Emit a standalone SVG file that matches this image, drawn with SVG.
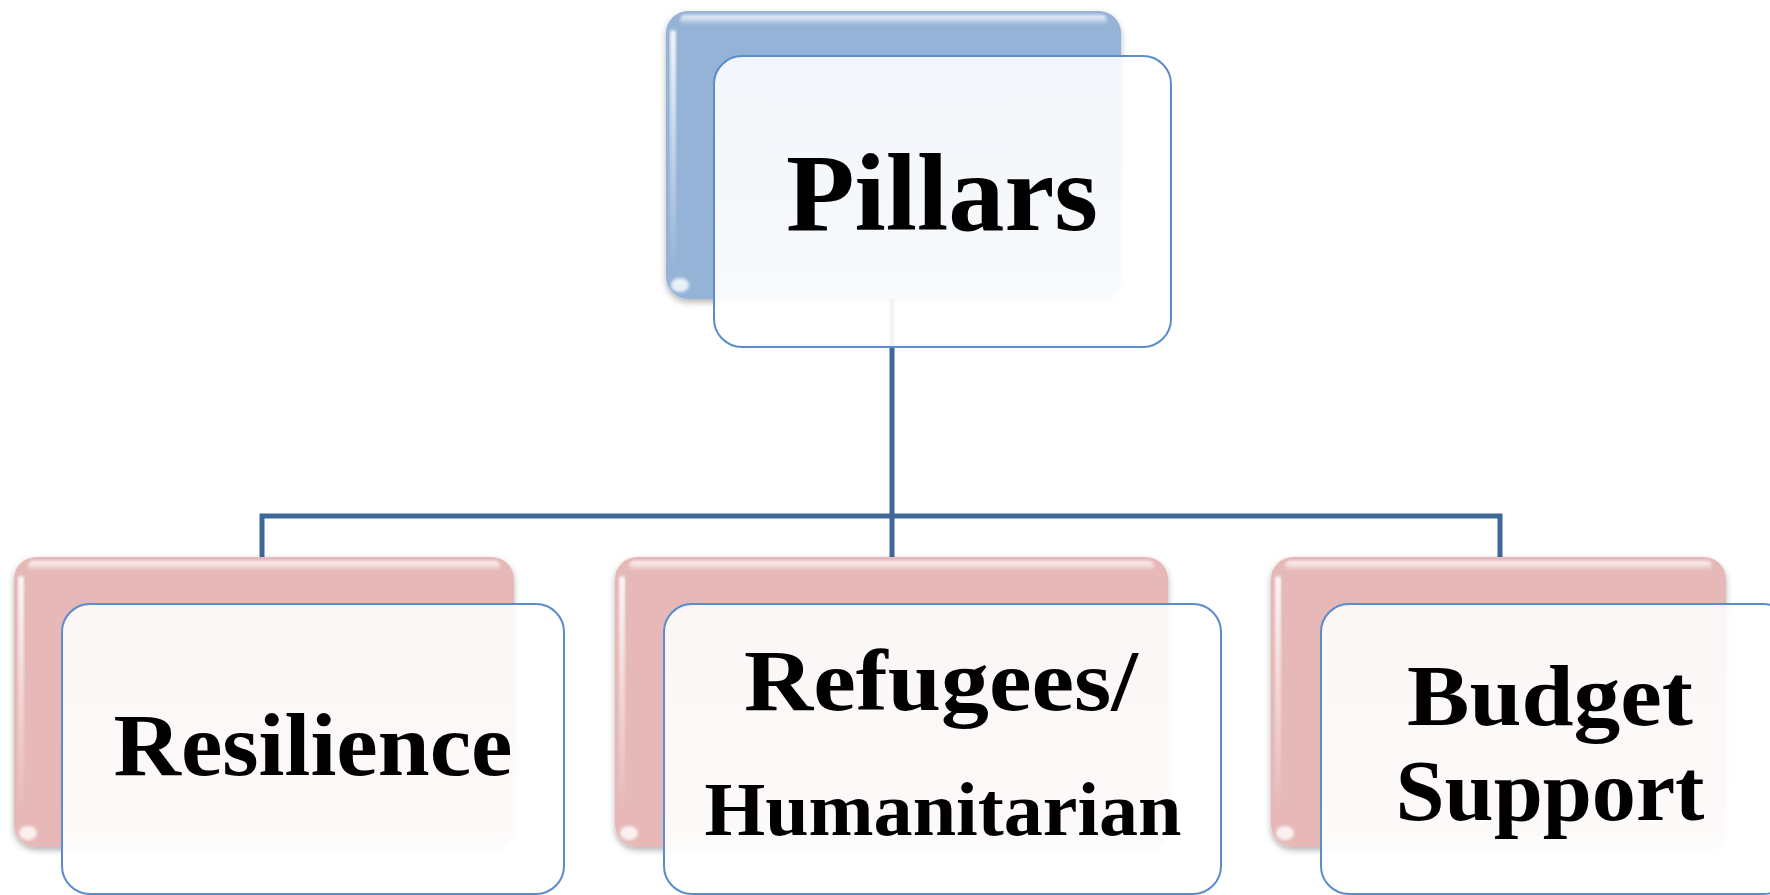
<svg xmlns="http://www.w3.org/2000/svg" width="1770" height="895" viewBox="0 0 1770 895">
  <defs>
    <linearGradient id="gloss" x1="0" y1="0" x2="0" y2="1">
      <stop offset="0" stop-color="#ffffff" stop-opacity="0.9"/>
      <stop offset="1" stop-color="#ffffff" stop-opacity="0"/>
    </linearGradient>
    <linearGradient id="frontFill" x1="0" y1="0" x2="0" y2="1">
      <stop offset="0" stop-color="#ffffff" stop-opacity="0.88"/>
      <stop offset="1" stop-color="#ffffff" stop-opacity="0.94"/>
    </linearGradient>
    <filter id="shadow" x="-5%" y="-5%" width="110%" height="115%">
      <feDropShadow dx="0" dy="3" stdDeviation="3" flood-color="#000000" flood-opacity="0.3"/>
    </filter>
    <filter id="blur" x="-10%" y="-100%" width="120%" height="300%">
      <feGaussianBlur stdDeviation="1.5"/>
    </filter>
  </defs>
  <style>
    .back-blue { fill: #95b3d7; filter: url(#shadow); }
    .back-pink { fill: #e6b8b7; filter: url(#shadow); }
    .gl { fill: url(#gloss); filter: url(#blur); }
    .front { fill: url(#frontFill); stroke: #5b8ccb; stroke-width: 2; }
    .conn { fill: none; stroke: #3f6899; stroke-width: 5; stroke-linejoin: miter; }
    .lbl { font-family: "Liberation Serif", "Times New Roman", serif; font-weight: bold; fill: #000000; text-anchor: middle; }
  </style>

  <rect width="1770" height="895" fill="#ffffff"/>

  <g id="connectors">
    <path class="conn" d="M892,299 V516"/>
    <path class="conn" d="M262,557 V516 H1500 V557"/>
    <path class="conn" d="M892,516 V557"/>
  </g>

  <g id="node-pillars">
    <rect class="back-blue" x="666" y="11" width="455" height="288" rx="22"/>
    <rect class="gl" x="680" y="15" width="427" height="10" rx="5"/>
    <rect class="gl" x="670" y="30" width="6" height="240" rx="3"/>
    <ellipse cx="680" cy="285" rx="9" ry="7" fill="#ffffff" opacity="0.8" filter="url(#blur)"/>
    <rect class="front" x="714" y="56" width="457" height="291" rx="28"/>
    <text class="lbl" x="942" y="230" font-size="110" textLength="312" lengthAdjust="spacingAndGlyphs">Pillars</text>
  </g>

  <g id="node-resilience">
    <rect class="back-pink" x="14" y="557" width="500" height="290" rx="22"/>
    <rect class="gl" x="28" y="561" width="472" height="10" rx="5"/>
    <rect class="gl" x="18" y="576" width="6" height="240" rx="3"/>
    <ellipse cx="28" cy="833" rx="9" ry="7" fill="#ffffff" opacity="0.8" filter="url(#blur)"/>
    <rect class="front" x="62" y="604" width="502" height="290" rx="28"/>
    <text class="lbl" x="313" y="775" font-size="88" textLength="399" lengthAdjust="spacingAndGlyphs">Resilience</text>
  </g>

  <g id="node-refugees">
    <rect class="back-pink" x="615" y="557" width="553" height="290" rx="22"/>
    <rect class="gl" x="629" y="561" width="525" height="10" rx="5"/>
    <rect class="gl" x="619" y="576" width="6" height="240" rx="3"/>
    <ellipse cx="629" cy="833" rx="9" ry="7" fill="#ffffff" opacity="0.8" filter="url(#blur)"/>
    <rect class="front" x="664" y="604" width="557" height="290" rx="28"/>
    <text class="lbl" x="941" y="710" font-size="86" textLength="394" lengthAdjust="spacingAndGlyphs">Refugees/</text>
    <text class="lbl" x="943" y="835" font-size="76" textLength="477" lengthAdjust="spacingAndGlyphs">Humanitarian</text>
  </g>

  <g id="node-budget">
    <rect class="back-pink" x="1271" y="557" width="455" height="290" rx="22"/>
    <rect class="gl" x="1285" y="561" width="427" height="10" rx="5"/>
    <rect class="gl" x="1275" y="576" width="6" height="240" rx="3"/>
    <ellipse cx="1285" cy="833" rx="9" ry="7" fill="#ffffff" opacity="0.8" filter="url(#blur)"/>
    <rect class="front" x="1321" y="604" width="470" height="290" rx="28"/>
    <text class="lbl" x="1550" y="725" font-size="86" textLength="286" lengthAdjust="spacingAndGlyphs">Budget</text>
    <text class="lbl" x="1550" y="820" font-size="86" textLength="309" lengthAdjust="spacingAndGlyphs">Support</text>
  </g>
</svg>
